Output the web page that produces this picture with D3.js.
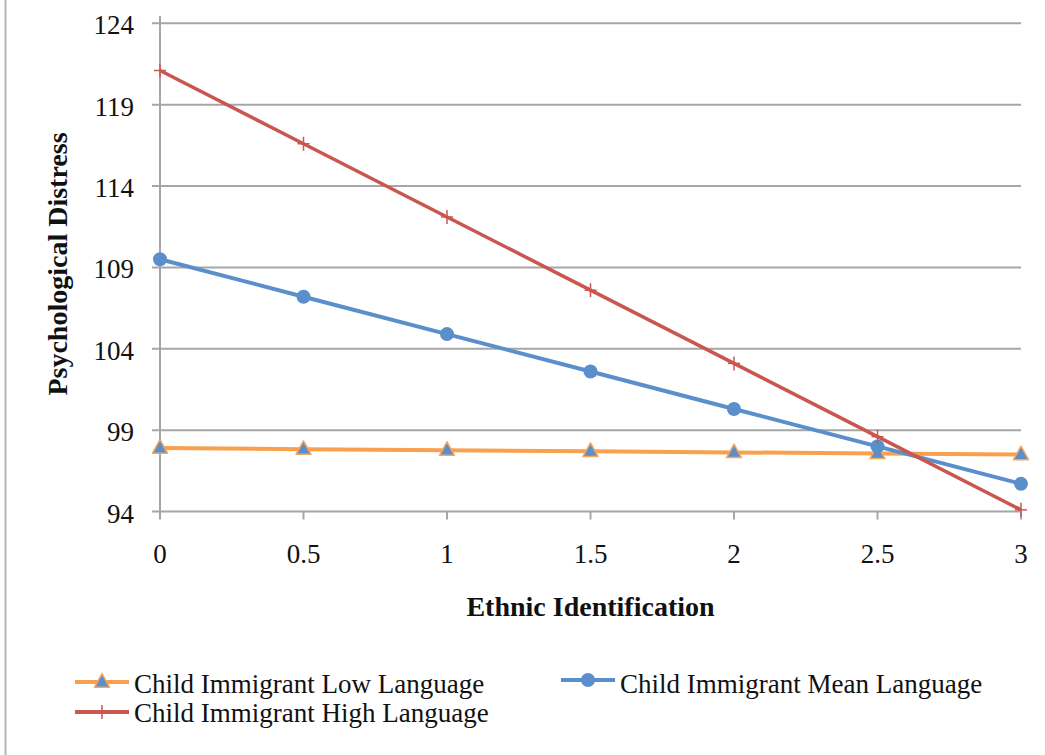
<!DOCTYPE html>
<html>
<head>
<meta charset="utf-8">
<script src="https://cdn.jsdelivr.net/npm/d3@7"></script>
<style>
  html, body { margin: 0; padding: 0; background: #fff; }
  svg { display: block; }
  text { font-family: "Liberation Serif", "DejaVu Serif", serif; fill: #111; }
</style>
</head>
<body>
<svg id="chart" width="1045" height="755"></svg>
<script>
// Ethnic identification levels on the x axis
const xValues = [0, 0.5, 1, 1.5, 2, 2.5, 3];
const xTickLabels = ["0", "0.5", "1", "1.5", "2", "2.5", "3"];
const yTicks = [94, 99, 104, 109, 114, 119, 124];

// Predicted psychological distress for each language group
const lowLanguage  = [97.9, 97.83, 97.77, 97.7, 97.63, 97.57, 97.5];
const meanLanguage = [109.5, 107.2, 104.9, 102.6, 100.3, 98.0, 95.7];
const highLanguage = [121.1, 116.6, 112.1, 107.6, 103.1, 98.6, 94.1];

const seriesNames = [
  "Child Immigrant Low Language",
  "Child Immigrant Mean Language",
  "Child Immigrant High Language"
];

const svg = d3.select("#chart");
const W = 1045, H = 755;
const plotLeft = 160, plotRight = 1021, plotTop = 23.3, plotBottom = 511.5;

const x = d3.scaleLinear().domain([0, 3]).range([plotLeft, plotRight]);
const y = d3.scaleLinear().domain([94, 124]).range([plotBottom, plotTop]);

const gridColor = "#a6a6a6";

// outer frame edge on the left
svg.append("line")
  .attr("x1", 5.5).attr("x2", 5.5).attr("y1", 0).attr("y2", H)
  .attr("stroke", "#b5b5b5").attr("stroke-width", 2);

// horizontal gridlines
svg.append("g").selectAll("line").data(yTicks).join("line")
  .attr("x1", plotLeft - 8).attr("x2", plotRight)
  .attr("y1", d => y(d)).attr("y2", d => y(d))
  .attr("stroke", gridColor).attr("stroke-width", 2);

// y axis line
svg.append("line")
  .attr("x1", plotLeft).attr("x2", plotLeft).attr("y1", 16).attr("y2", plotBottom + 8)
  .attr("stroke", gridColor).attr("stroke-width", 2);

// x tick marks
svg.append("g").selectAll("line").data(xValues.slice(1)).join("line")
  .attr("x1", d => x(d)).attr("x2", d => x(d))
  .attr("y1", plotBottom).attr("y2", plotBottom + 8)
  .attr("stroke", gridColor).attr("stroke-width", 2);

// y tick labels
svg.append("g").selectAll("text").data(yTicks).join("text")
  .attr("x", 134).attr("y", d => y(d) + 11)
  .attr("text-anchor", "end")
  .attr("font-size", 27)
  .text(d => d);

// x tick labels
svg.append("g").selectAll("text").data(xValues).join("text")
  .attr("x", d => x(d)).attr("y", 563)
  .attr("text-anchor", "middle")
  .attr("font-size", 27)
  .text((d, i) => xTickLabels[i]);

// axis titles
svg.append("text")
  .attr("x", (plotLeft + plotRight) / 2).attr("y", 616)
  .attr("text-anchor", "middle")
  .attr("font-size", 28).attr("font-weight", "bold")
  .text("Ethnic Identification");

svg.append("text")
  .attr("transform", "translate(67, 264) rotate(-90)")
  .attr("text-anchor", "middle")
  .attr("font-size", 28).attr("font-weight", "bold")
  .text("Psychological Distress");

const line = d3.line().x((d, i) => x(xValues[i])).y(d => y(d));

const lowColor = "#f8a04e";
const meanColor = "#5b8fcb";
const highColor = "#c9574f";

function triangle(g, cx, cy, s) {
  const h = s * 0.9;
  g.append("path")
    .attr("d", `M${cx},${cy - h * 0.62} L${cx + s / 2},${cy + h * 0.38} L${cx - s / 2},${cy + h * 0.38} Z`)
    .attr("fill", meanColor).attr("stroke", "#f8a65a").attr("stroke-width", 1.5)
    .attr("stroke-linejoin", "round");
}

// low language series
svg.append("path").datum(lowLanguage)
  .attr("d", line).attr("fill", "none")
  .attr("stroke", lowColor).attr("stroke-width", 4);
const lowPts = svg.append("g");
lowLanguage.forEach((v, i) => triangle(lowPts, x(xValues[i]), y(v), 15));

// mean language series
svg.append("path").datum(meanLanguage)
  .attr("d", line).attr("fill", "none")
  .attr("stroke", meanColor).attr("stroke-width", 4);
svg.append("g").selectAll("circle").data(meanLanguage).join("circle")
  .attr("cx", (d, i) => x(xValues[i])).attr("cy", d => y(d))
  .attr("r", 7).attr("fill", meanColor);

// high language series
svg.append("path").datum(highLanguage)
  .attr("d", line).attr("fill", "none")
  .attr("stroke", highColor).attr("stroke-width", 3.5);
svg.append("g").selectAll("g").data(highLanguage).join("g")
  .each(function (d, i) {
    const g = d3.select(this);
    const cx = x(xValues[i]), cy = y(d);
    g.append("line").attr("x1", cx - 6).attr("x2", cx + 6).attr("y1", cy).attr("y2", cy)
      .attr("stroke", highColor).attr("stroke-width", 1.5);
    g.append("line").attr("x1", cx).attr("x2", cx).attr("y1", cy - 7).attr("y2", cy + 7)
      .attr("stroke", highColor).attr("stroke-width", 1.5);
  });

// legend
const legend = svg.append("g");
function legendItem(lx, ly, ty, name, kind) {
  const col = kind === "low" ? lowColor : kind === "mean" ? meanColor : highColor;
  legend.append("line").attr("x1", lx).attr("x2", lx + 54).attr("y1", ly).attr("y2", ly)
    .attr("stroke", col).attr("stroke-width", 4);
  const cx = lx + 27;
  if (kind === "low") triangle(legend, cx, ly, 15);
  else if (kind === "mean") legend.append("circle").attr("cx", cx).attr("cy", ly).attr("r", 7).attr("fill", meanColor);
  else {
    legend.append("line").attr("x1", cx).attr("x2", cx).attr("y1", ly - 7).attr("y2", ly + 7)
      .attr("stroke", col).attr("stroke-width", 1.5);
  }
  legend.append("text").attr("x", lx + 59).attr("y", ty)
    .attr("font-size", 27).text(name);
}
legendItem(75, 682, 693, seriesNames[0], "low");
legendItem(561, 680, 693, seriesNames[1], "mean");
legendItem(75, 712, 722, seriesNames[2], "high");
</script>
</body>
</html>
